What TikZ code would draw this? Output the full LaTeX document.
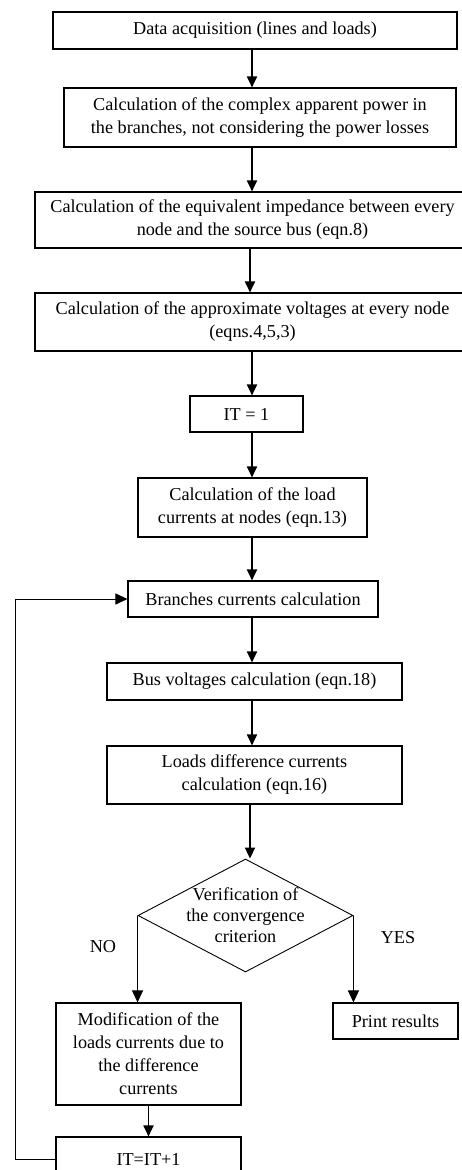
\documentclass[tikz,border=0pt]{standalone}
\usepackage{fontspec}
\setmainfont{Liberation Serif}
\usetikzlibrary{arrows.meta,shapes.geometric}
\begin{document}
\begin{tikzpicture}[x=1pt,y=-1pt,
  box/.style={draw,line width=1.1pt,rectangle,inner sep=0pt,align=center,font=\fontsize{18.2}{23}\selectfont},
  dia/.style={draw,line width=0.9pt,diamond,aspect=1.9,inner xsep=-4pt,inner ysep=-2pt,align=center,font=\fontsize{18.2}{21}\selectfont},
  lbl/.style={font=\fontsize{18.2}{22}\selectfont,inner sep=0pt},
  arr/.style={line width=1.8pt,-{Triangle[length=11pt,width=10pt]}},
  thinarr/.style={line width=0.9pt,-{Triangle[length=12pt,width=11pt]}}]
\useasboundingbox (0,0) rectangle (461,1170);
\node[box,minimum width=404,minimum height=37] (b1) at (255,30.5) {Data acquisition (lines and loads)};
\node[box,minimum width=392,minimum height=59] (b2) at (260,117.5) {Calculation of the complex apparent power in\\the branches, not considering the power losses};
\node[box,minimum width=435,minimum height=56] (b3) at (252.5,220) {Calculation of the equivalent impedance between every\\node and the source bus (eqn.8)};
\node[box,minimum width=435,minimum height=58] (b4) at (252.5,322) {Calculation of the approximate voltages at every node\\(eqns.4,5,3)};
\node[box,minimum width=113,minimum height=36] (b5) at (246.5,414) {IT = 1};
\node[box,minimum width=229,minimum height=59] (b6) at (252.5,507.5) {Calculation of the load\\currents at nodes (eqn.13)};
\node[box,minimum width=250,minimum height=36] (b7) at (253,599) {Branches currents calculation};
\node[box,minimum width=295,minimum height=37] (b8) at (254.5,681.5) {Bus voltages calculation (eqn.18)};
\node[box,minimum width=295,minimum height=58] (b9) at (254.5,775) {Loads difference currents\\calculation (eqn.16)};
\node[dia,minimum width=215,minimum height=113] (d) at (245.5,915.5) {Verification of\\the convergence\\criterion};
\node[box,minimum width=185,minimum height=102] (b10) at (148.5,1054) {Modification of the\\loads currents due to\\the difference\\currents};
\node[box,minimum width=125,minimum height=36] (pr) at (395.5,1021) {Print results};
\node[box,minimum width=185,minimum height=44] (b11) at (148.5,1159) {IT=IT+1};
\node[lbl] (no) at (103,947) {NO};
\node[lbl] (yes) at (398,938) {YES};
\coordinate (ax) at (252,0);
\coordinate (bx) at (250,0);
\draw[arr] (b1.south -| ax) -- (b2.north -| ax);
\draw[arr] (b2.south -| ax) -- (b3.north -| ax);
\draw[arr] (b3.south -| bx) -- (b4.north -| bx);
\draw[arr] (b4.south -| ax) -- (b5.north -| ax);
\draw[arr] (b5.south -| ax) -- (b6.north -| ax);
\draw[arr] (b6.south -| ax) -- (b7.north -| ax);
\draw[arr] (b7.south -| ax) -- (b8.north -| ax);
\draw[arr] (b8.south -| ax) -- (b9.north -| ax);
\draw[arr] (b9.south -| bx) -- (d.north -| bx);
\draw[thinarr] (d.west) -- (d.west |- b10.north);
\draw[thinarr] (d.east) -- (d.east |- pr.north);
\draw[arr] (b10.south) -- (b11.north);
\coordinate (lp) at (15,0);
\draw[thinarr] (b11.west) -- (b11.west -| lp) |- (b7.west);
\end{tikzpicture}
\end{document}
